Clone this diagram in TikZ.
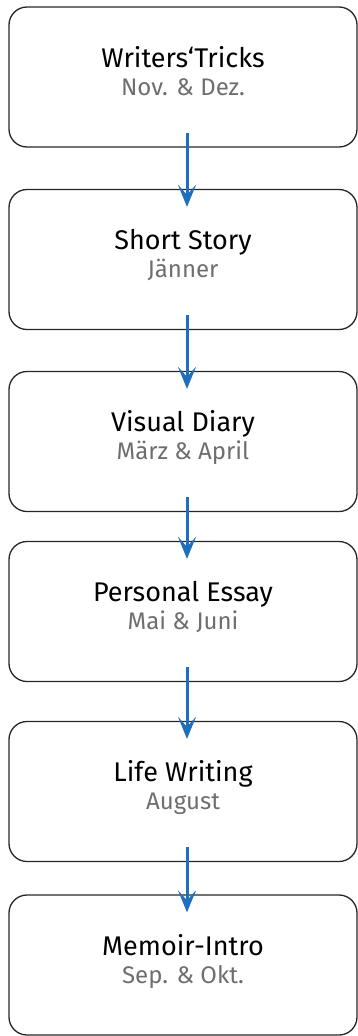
\documentclass[tikz,border=0pt]{standalone}
\usepackage{fontspec}
\setmainfont{Fira Sans}
\usepackage{xcolor}
\usetikzlibrary{arrows.meta}
\definecolor{flowblue}{HTML}{1F6FBD}
\definecolor{periodgray}{HTML}{6E6E6E}
\tikzset{
    stage/.style={
        draw=black!85,
        line width=1.3pt,
        rounded corners=18pt,
        minimum width=348pt,
        minimum height=140pt,
        align=center,
        text height=50pt,
        text depth=14pt,
        font=\fontsize{27pt}{28pt}\selectfont
    },
    flow/.style={
        draw=flowblue,
        line width=3pt,
        -{Stealth[length=22pt, width=18pt, inset=10pt]}
    }
}
\newcommand{\period}[1]{{\color{periodgray}\fontsize{24pt}{28pt}\selectfont #1}}

\begin{document}
\begin{tikzpicture}[x=1pt, y=-1pt]
  \useasboundingbox (0,0) rectangle (358,1036);

  % Stages of the year
  \node[stage] (b1) at (183,77)    {Writers‘Tricks\\\period{Nov. \& Dez.}};
  \node[stage] (b2) at (183,259.5) {Short Story\\\period{Jänner}};
  \node[stage] (b3) at (183,441.5) {Visual Diary\\\period{März \& April}};
  \node[stage] (b4) at (183,611.5) {Personal Essay\\\period{Mai \& Juni}};
  \node[stage] (b5) at (183,791.5) {Life Writing\\\period{August}};
  \node[stage] (b6) at (183,965)   {Memoir-Intro\\\period{Sep. \& Okt.}};

  % Arrows from one stage to the next
  \draw[flow] ([xshift=4pt, yshift=15pt]b1.south) -- ([xshift=4pt, yshift=-18pt]b2.north);
  \draw[flow] ([xshift=4pt, yshift=15pt]b2.south) -- ([xshift=4pt, yshift=-18pt]b3.north);
  \draw[flow] ([xshift=4pt, yshift=15pt]b3.south) -- ([xshift=4pt, yshift=-18pt]b4.north);
  \draw[flow] ([xshift=4pt, yshift=15pt]b4.south) -- ([xshift=4pt, yshift=-18pt]b5.north);
  \draw[flow] ([xshift=4pt, yshift=15pt]b5.south) -- ([xshift=4pt, yshift=-18pt]b6.north);
\end{tikzpicture}
\end{document}
